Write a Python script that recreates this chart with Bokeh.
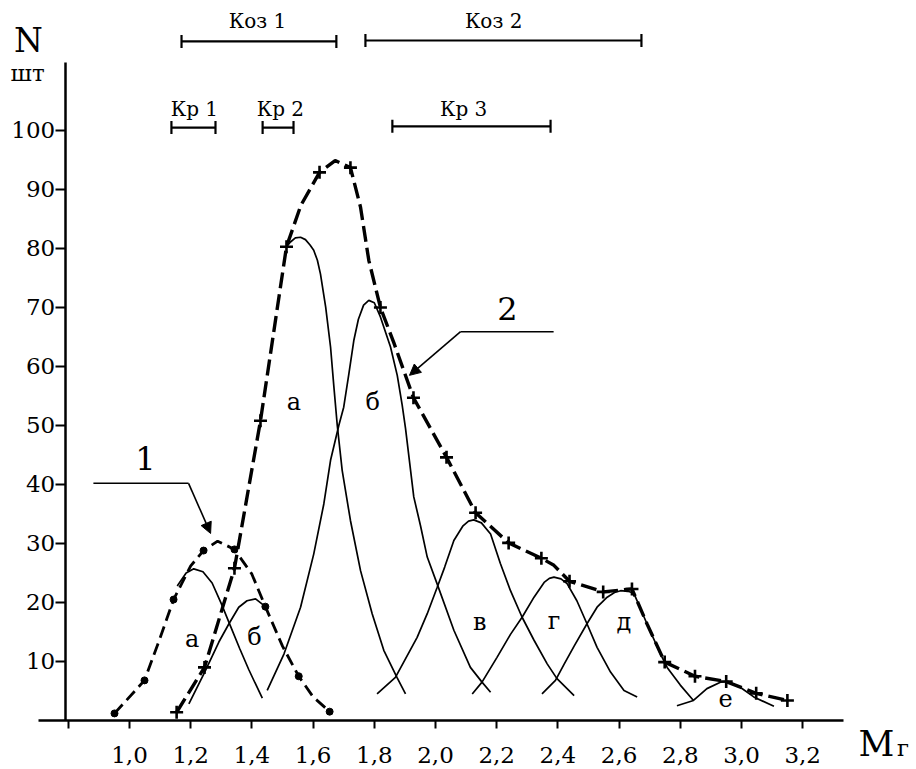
import numpy as np
from bokeh.plotting import figure
from bokeh.models import FixedTicker, CustomJSTickFormatter, Arrow, NormalHead, Range1d
from bokeh.core.properties import value
from bokeh.embed import file_html
from bokeh.resources import INLINE

# ---------------- data ----------------
# envelope 1 (dash-dot with dots): data points
env1_x = [0.951, 1.049, 1.144, 1.242, 1.343, 1.444, 1.553, 1.654]
env1_y = [1.2, 6.8, 20.5, 28.8, 29.0, 19.3, 7.5, 1.5]
# envelope 1 drawn line
env1_line_x = [0.951, 1.049, 1.10, 1.144, 1.20, 1.242, 1.288, 1.343, 1.40, 1.444, 1.50, 1.553, 1.60, 1.654]
env1_line_y = [1.2, 6.8, 14.0, 20.5, 26.2, 28.8, 30.4, 29.0, 24.8, 19.3, 12.6, 7.5, 4.0, 1.5]

# envelope 2 (dashed with crosses): data points
env2_x = [1.154, 1.245, 1.343, 1.428, 1.513, 1.621, 1.722, 1.820, 1.928, 2.036, 2.131,
          2.239, 2.346, 2.438, 2.548, 2.642, 2.749, 2.848, 2.950, 3.048, 3.150]
env2_y = [1.4, 9.0, 25.8, 50.8, 80.3, 92.9, 93.7, 70.0, 54.7, 44.6, 35.2,
          30.1, 27.5, 23.6, 21.8, 22.3, 9.9, 7.5, 6.6, 4.6, 3.4]
# envelope 2 drawn line
env2_line_x = [1.154, 1.245, 1.343, 1.428, 1.513, 1.560, 1.621, 1.672, 1.722, 1.755, 1.782, 1.820,
               1.864, 1.928, 2.036, 2.131, 2.239, 2.346, 2.387, 2.438, 2.548, 2.642, 2.691,
               2.749, 2.848, 2.950, 3.048, 3.150]
env2_line_y = [1.4, 9.0, 25.8, 50.8, 80.3, 87.3, 92.9, 94.9, 93.7, 87.0, 78.0, 70.0,
               64.0, 54.7, 44.6, 35.2, 30.1, 27.5, 26.3, 23.6, 21.8, 22.3, 16.4,
               9.9, 7.5, 6.6, 4.6, 3.4]

# component curves (thin solid)
comp_a1_x = [1.156, 1.185, 1.210, 1.240, 1.270, 1.300, 1.330, 1.360, 1.390, 1.410, 1.434]
comp_a1_y = [22.8, 25.0, 25.7, 25.2, 23.3, 19.8, 16.0, 12.2, 8.6, 6.4, 3.8]

comp_b1_x = [1.194, 1.243, 1.292, 1.325, 1.357, 1.384, 1.412, 1.439, 1.450]
comp_b1_y = [2.8, 7.9, 13.3, 16.4, 19.2, 20.3, 20.6, 19.5, 18.8]

comp_A_x = [1.513, 1.526, 1.542, 1.559, 1.575, 1.590, 1.602, 1.614, 1.624, 1.641, 1.657, 1.668,
            1.679, 1.695, 1.722, 1.755, 1.793, 1.831, 1.874, 1.902]
comp_A_y = [80.3, 81.1, 81.8, 81.9, 81.5, 80.6, 79.7, 78.0, 75.7, 70.1, 63.3, 56.5,
            50.0, 42.4, 33.9, 25.4, 18.1, 11.9, 7.3, 4.5]

comp_B_x = [1.450, 1.505, 1.559, 1.602, 1.635, 1.657, 1.684, 1.700, 1.717, 1.733, 1.748, 1.765,
            1.782, 1.800, 1.820, 1.853, 1.875, 1.891, 1.902, 1.929, 1.951, 1.973, 2.005,
            2.060, 2.114, 2.152, 2.180]
comp_B_y = [5.1, 11.3, 19.2, 28.2, 36.7, 44.1, 50.0, 53.1, 58.8, 64.4, 68.0, 70.4,
            71.2, 70.8, 68.4, 63.3, 58.5, 53.5, 49.5, 37.9, 33.0, 27.7, 23.2,
            15.3, 9.0, 6.5, 4.8]

comp_V_x = [1.809, 1.869, 1.940, 1.973, 2.005, 2.030, 2.060, 2.090, 2.108, 2.125, 2.150, 2.180,
            2.212, 2.245, 2.283, 2.322, 2.365, 2.397, 2.453]
comp_V_y = [4.5, 7.3, 14.1, 18.1, 22.5, 26.0, 30.5, 33.0, 33.8, 34.0, 33.5, 31.6,
            26.6, 22.0, 17.5, 13.6, 9.6, 7.1, 4.2]

comp_G_x = [2.120, 2.152, 2.201, 2.245, 2.283, 2.322, 2.355, 2.372, 2.387, 2.410, 2.430, 2.462,
            2.495, 2.528, 2.572, 2.616, 2.659]
comp_G_y = [4.5, 6.5, 10.7, 14.6, 17.5, 20.9, 23.4, 24.1, 24.3, 24.0, 23.2, 20.3,
            16.4, 12.4, 8.2, 5.1, 4.0]

comp_D_x = [2.348, 2.392, 2.420, 2.453, 2.495, 2.528, 2.561, 2.585, 2.605, 2.628, 2.648, 2.691,
            2.735, 2.757, 2.800, 2.843]
comp_D_y = [4.5, 6.8, 9.5, 12.6, 16.4, 19.2, 20.9, 21.7, 22.0, 21.9, 21.6, 16.4,
            11.3, 9.0, 6.0, 3.4]

comp_E_x = [2.789, 2.843, 2.887, 2.931, 2.948, 2.997, 3.040, 3.106]
comp_E_y = [2.5, 3.4, 5.4, 6.5, 6.6, 5.6, 4.0, 2.4]

# component letters
letter_text = ["а", "б", "а", "б", "в", "г", "д", "е"]
letter_x = [1.205, 1.408, 1.537, 1.795, 2.145, 2.387, 2.616, 2.948]
letter_y = [13.8, 14.1, 53.9, 54.0, 16.7, 16.8, 16.7, 3.7]

# range bars above the chart
bar_name = ["Коз 1", "Коз 2", "Кр 1", "Кр 2", "Кр 3"]
bar_start = [1.170, 1.771, 1.137, 1.435, 1.859]
bar_end = [1.676, 2.673, 1.281, 1.536, 2.376]
bar_level = [115.1, 115.25, 100.5, 100.5, 100.7]
bar_label_x = [1.418, 2.190, 1.212, 1.493, 2.092]
bar_label_y = [118.5, 118.6, 103.7, 103.7, 103.7]

# curve number labels and arrows
num_text = ["1", "2"]
num_x = [1.052, 2.235]
num_y = [44.4, 69.8]
arrow1_x = [0.882, 1.193, 1.265]
arrow1_y = [40.2, 40.2, 31.7]
arrow2_x = [2.386, 2.082, 1.915]
arrow2_y = [65.9, 65.9, 58.5]

# axes
x_ticks = [0.8, 1.0, 1.2, 1.4, 1.6, 1.8, 2.0, 2.2, 2.4, 2.6, 2.8, 3.0, 3.2]
y_ticks = [10, 20, 30, 40, 50, 60, 70, 80, 90, 100]

FONT = value("DejaVu Serif")

p = figure(width=916, height=769, output_backend="svg", toolbar_location=None,
           x_range=Range1d(0.5784, 3.5719), y_range=Range1d(-8.305, 122.03),
           min_border=0)
p.min_border_left = 0
p.min_border_right = 0
p.min_border_top = 0
p.min_border_bottom = 0
p.outline_line_color = None
p.grid.visible = False

# axes placed inside the frame
xa = p.xaxis[0]
ya = p.yaxis[0]
xa.fixed_location = 0
ya.fixed_location = 0.79
xa.bounds = (0.703, 3.333)
ya.bounds = (0, 111.5)
xa.ticker = FixedTicker(ticks=x_ticks)
ya.ticker = FixedTicker(ticks=y_ticks)
xa.formatter = CustomJSTickFormatter(code="return tick < 0.9 ? '' : tick.toFixed(1).replace('.', ',');")
for ax in (xa, ya):
    ax.axis_line_width = 2.5
    ax.axis_line_color = "black"
    ax.major_tick_line_width = 2
    ax.major_tick_line_color = "black"
    ax.minor_tick_line_color = None
    ax.major_tick_in = 0
    ax.major_label_text_font = "DejaVu Serif"
    ax.major_label_text_font_size = "23px"
    ax.major_label_text_color = "black"
xa.major_tick_out = 8
ya.major_tick_out = 10
xa.major_label_standoff = 19
ya.major_label_standoff = 0

# component curves
for cx, cy in [(comp_a1_x, comp_a1_y), (comp_b1_x, comp_b1_y), (comp_A_x, comp_A_y),
               (comp_B_x, comp_B_y), (comp_V_x, comp_V_y), (comp_G_x, comp_G_y),
               (comp_D_x, comp_D_y), (comp_E_x, comp_E_y)]:
    p.line(cx, cy, line_color="black", line_width=1.7)

# envelope 1
p.line(env1_line_x, env1_line_y, line_color="black", line_width=2.8, line_dash="12 6")
p.scatter(env1_x, env1_y, marker="circle", size=7, fill_color="black", line_color="black")

# envelope 2
p.line(env2_line_x, env2_line_y, line_color="black", line_width=3.4, line_dash="16 6")
p.scatter(env2_x, env2_y, marker="cross", size=13, line_color="black", line_width=2.6)

# letters
p.text(letter_x, letter_y, text=letter_text, text_font=FONT, text_font_size="24px",
       text_align="center", text_baseline="middle", text_color="black")

# range bars
p.segment(bar_start, bar_level, bar_end, bar_level, line_color="black", line_width=2.2)
p.scatter(bar_start + bar_end, bar_level + bar_level, marker="dash", angle=np.pi / 2,
          size=13, line_color="black", line_width=2.2)
p.text(bar_label_x, bar_label_y, text=bar_name, text_font=FONT, text_font_size="20px",
       text_align="center", text_baseline="middle", text_color="black")

# curve numbers and arrows
p.text(num_x, num_y, text=num_text, text_font=FONT, text_font_size="32px",
       text_align="center", text_baseline="middle", text_color="black")
for axs, ays in [(arrow1_x, arrow1_y), (arrow2_x, arrow2_y)]:
    p.line(axs[:2], ays[:2], line_color="black", line_width=1.6)
    p.add_layout(Arrow(end=NormalHead(size=11, fill_color="black", line_color="black"),
                       x_start=axs[1], y_start=ays[1], x_end=axs[2], y_end=ays[2],
                       line_color="black", line_width=1.6))

# axis titles
p.text([0.670], [115.3], text=["N"], text_font=FONT, text_font_size="33px",
       text_align="center", text_baseline="middle", text_color="black")
p.text([0.667], [109.7], text=["шт"], text_font=FONT, text_font_size="23px",
       text_align="center", text_baseline="middle", text_color="black")
p.text([3.441], [-3.9], text=["M"], text_font=FONT, text_font_size="35px",
       text_align="center", text_baseline="middle", text_color="black")
p.text([3.508], [-4.7], text=["г"], text_font=FONT, text_font_size="23px",
       text_align="left", text_baseline="middle", text_color="black")

open("out.html", "w").write(file_html(p, INLINE))
